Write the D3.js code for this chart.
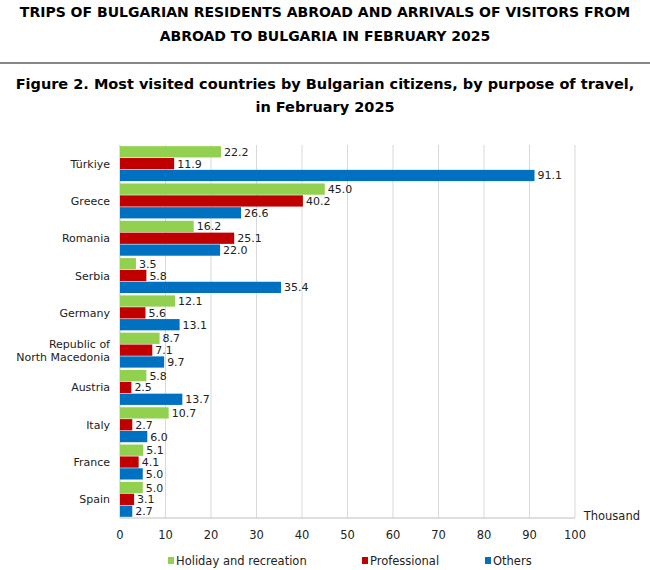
<!DOCTYPE html><html><head><meta charset="utf-8"><script src="https://cdn.jsdelivr.net/npm/d3@7"></script>
<style>body{margin:0;background:#fff}text{font-family:"DejaVu Sans",sans-serif}</style></head><body>
<svg id="c" width="650" height="570"></svg>
<script>
const countries=["Türkiye","Greece","Romania","Serbia","Germany","Republic of|North Macedonia","Austria","Italy","France","Spain"];
const holiday=[22.2,45.0,16.2,3.5,12.1,8.7,5.8,10.7,5.1,5.0];
const professional=[11.9,40.2,25.1,5.8,5.6,7.1,2.5,2.7,4.1,3.1];
const others=[91.1,26.6,22.0,35.4,13.1,9.7,13.7,6.0,5.0,2.7];
const seriesNames=["Holiday and recreation","Professional","Others"];
const colors=["#92d050","#c00000","#0070c0"];
const ticks=[0,10,20,30,40,50,60,70,80,90,100];
const svg=d3.select("#c");
svg.append("text").attr("x",325).attr("y",17).attr("text-anchor","middle").attr("font-weight","bold").attr("font-size",14).text("TRIPS OF BULGARIAN RESIDENTS ABROAD AND ARRIVALS OF VISITORS FROM");
svg.append("text").attr("x",325).attr("y",41).attr("text-anchor","middle").attr("font-weight","bold").attr("font-size",14).text("ABROAD TO BULGARIA IN FEBRUARY 2025");
svg.append("line").attr("x1",0).attr("x2",650).attr("y1",63).attr("y2",63).attr("stroke","#888").attr("stroke-width",2);
svg.append("text").attr("x",325).attr("y",89).attr("text-anchor","middle").attr("font-weight","bold").attr("font-size",14.5).text("Figure 2. Most visited countries by Bulgarian citizens, by purpose of travel,");
svg.append("text").attr("x",325).attr("y",112).attr("text-anchor","middle").attr("font-weight","bold").attr("font-size",14.5).text("in February 2025");
const x=d3.scaleLinear().domain([0,100]).range([120,575]);
const y=d3.scaleBand().domain(countries).range([145,518]);
const yi=d3.scaleBand().domain([0,1,2]).range([0,y.bandwidth()]).paddingInner(0.05).paddingOuter(0.1);
const g=svg.append("g");
g.selectAll(".grid").data(ticks.slice(1)).join("line").attr("x1",d=>x(d)).attr("x2",d=>x(d)).attr("y1",145).attr("y2",518).attr("stroke","#d9d9d9");
g.append("line").attr("x1",120).attr("x2",120).attr("y1",145).attr("y2",518).attr("stroke","#bfbfbf");
g.append("line").attr("x1",120).attr("x2",575).attr("y1",518).attr("y2",518).attr("stroke","#bfbfbf");
const data=[holiday,professional,others];
countries.forEach((c,i)=>{
  data.forEach((arr,s)=>{
    const yy=y(c)+yi(s);
    g.append("rect").attr("x",x(0)).attr("y",yy).attr("width",x(arr[i])-x(0)).attr("height",yi.bandwidth()).attr("fill",colors[s]);
    g.append("text").attr("x",x(arr[i])+3).attr("y",yy+yi.bandwidth()/2+4).attr("font-size",11).attr("fill","#222").text(arr[i].toFixed(1));
  });
  const parts=c.split("|");
  const cy=y(c)+y.bandwidth()/2;
  parts.forEach((p,k)=>g.append("text").attr("x",110).attr("y",cy+4+(k-(parts.length-1)/2)*13).attr("text-anchor","end").attr("font-size",11).attr("fill","#222").text(p));
});
ticks.forEach(t=>g.append("text").attr("x",x(t)).attr("y",539).attr("text-anchor","middle").attr("font-size",11.5).attr("fill","#222").text(t));
svg.append("text").attr("x",640).attr("y",520).attr("text-anchor","end").attr("font-size",11.5).attr("fill","#222").text("Thousand");
const lx=[168,362,485];
seriesNames.forEach((n,s)=>{
  svg.append("rect").attr("x",lx[s]).attr("y",557).attr("width",6).attr("height",7).attr("fill",colors[s]);
  svg.append("text").attr("x",lx[s]+8).attr("y",565).attr("font-size",11.5).attr("fill","#222").text(n);
});
</script></body></html>
